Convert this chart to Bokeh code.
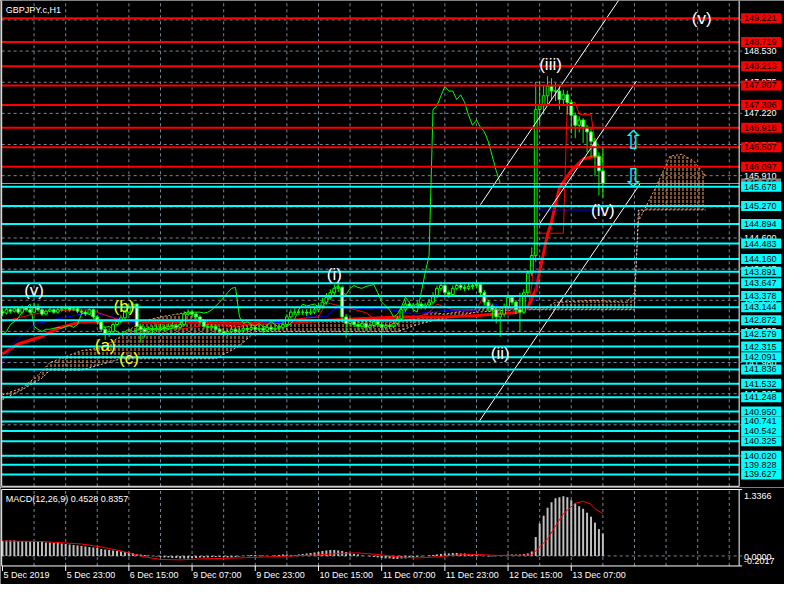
from bokeh.plotting import figure
from bokeh.layouts import column
from bokeh.models import Range1d
from bokeh.embed import file_html
from bokeh.resources import INLINE
from bokeh.core.properties import value

symbol_title = "GBPJPY.c,H1"
macd_title = "MACD(12,26,9) 0.4528 0.8357"

first_open = 143.05
closes = [143.02,143.09,143.06,143.11,143.04,143.13,143.09,143.04,143.15,143.09,
          143.00,143.06,143.09,143.04,143.09,143.11,143.13,143.09,143.11,143.06,
          143.04,143.00,143.09,142.94,142.84,142.68,
          142.57,142.63,142.78,142.84,142.92,143.04,143.13,143.21,142.74,142.68,
          142.63,142.68,142.68,142.70,142.72,142.70,142.74,142.76,142.72,142.78,
          143.00,143.04,143.00,142.94,142.84,142.74,142.72,142.74,142.68,142.63,
          142.59,142.63,142.68,142.63,142.66,142.70,142.68,142.72,142.68,142.70,
          142.66,142.72,142.68,142.70,142.72,142.78,142.94,143.04,143.04,143.04,
          143.04,143.02,143.04,143.09,143.17,143.25,143.35,143.45,143.54,143.56,
          142.94,142.80,142.84,142.78,142.74,142.80,142.72,142.76,142.84,142.78,
          142.72,142.76,142.74,142.80,142.90,143.09,143.21,143.17,143.19,143.21,
          143.15,143.19,143.25,143.39,143.54,143.60,143.45,143.41,143.54,143.60,
          143.56,143.54,143.58,143.60,143.62,143.45,143.25,143.17,143.09,142.94,
          143.00,143.15,143.35,143.25,143.09,143.04,143.45,143.86,144.23,147.30,
          147.38,147.59,147.79,147.69,147.69,147.51,147.61,147.45,147.18,146.97,
          147.08,146.93,146.83,146.63,146.32,146.01,145.75]
highs = [143.12,143.14,143.12,143.16,143.14,143.18,143.16,143.12,143.24,143.22,
         143.12,143.10,143.14,143.12,143.13,143.16,143.18,143.16,143.14,143.13,
         143.10,143.08,143.12,143.12,142.98,142.88,142.74,142.70,142.82,142.90,
         142.98,143.10,143.20,143.26,143.22,142.80,142.74,142.74,142.76,142.78,
         142.80,142.78,142.80,142.82,142.80,142.84,143.06,143.10,143.08,143.04,
         142.98,142.88,142.80,142.80,142.78,142.72,142.68,142.68,142.74,142.72,
         142.72,142.76,142.74,142.78,142.76,142.76,142.74,142.78,142.76,142.76,
         142.78,142.84,143.00,143.10,143.12,143.10,143.10,143.10,143.12,143.16,
         143.24,143.34,143.44,143.52,143.62,143.66,143.60,143.00,142.92,142.90,
         142.84,142.86,142.84,142.82,142.90,142.88,142.82,142.82,142.82,142.86,
         142.96,143.14,143.28,143.26,143.24,143.28,143.26,143.24,143.32,143.46,
         143.60,143.68,143.64,143.50,143.60,143.66,143.64,143.62,143.64,143.66,
         143.70,143.66,143.50,143.30,143.22,143.14,143.10,143.22,143.42,143.40,
         143.30,143.45,143.52,143.92,144.40,147.88,147.90,147.82,148.00,147.96,
         147.86,147.80,147.72,147.70,147.50,147.24,147.16,147.12,146.98,146.90,
         146.70,146.40,146.52]
lows = [142.96,142.99,143.01,143.03,143.00,143.01,143.05,142.99,143.02,143.05,
        142.96,142.97,143.03,143.00,143.01,143.05,143.08,143.05,143.06,143.02,
        142.99,142.96,142.98,142.90,142.78,142.62,142.46,142.52,142.60,142.74,
        142.80,142.88,143.00,143.08,142.60,142.40,142.50,142.56,142.60,142.62,
        142.64,142.64,142.66,142.70,142.66,142.68,142.74,142.96,142.94,142.88,
        142.78,142.68,142.64,142.66,142.62,142.56,142.52,142.54,142.58,142.58,
        142.58,142.62,142.62,142.64,142.62,142.64,142.60,142.62,142.62,142.64,
        142.66,142.68,142.74,142.90,142.98,142.98,142.98,142.96,142.98,143.00,
        143.04,143.12,143.20,143.30,143.40,143.46,142.88,142.50,142.74,142.72,
        142.66,142.68,142.64,142.66,142.70,142.72,142.48,142.66,142.68,142.70,
        142.76,142.86,143.04,143.12,143.12,143.14,143.10,143.10,143.14,143.20,
        143.34,143.48,143.40,143.34,143.38,143.50,143.50,143.48,143.50,143.52,
        143.54,143.38,143.18,143.05,142.90,142.80,142.52,142.94,143.10,143.18,
        143.00,142.63,143.00,143.40,143.80,144.10,147.00,147.20,147.40,147.50,
        147.48,147.30,147.40,147.20,146.80,146.70,146.82,146.60,146.40,146.30,
        145.90,145.50,145.45]
chikou_shift = 26

kijun_x = [0,3,6,8,10,14,20,25,34,64,74,77,82,84,97,104,112,120,122,125,126,133,135,135,152]
kijun = [141.98,142.39,142.63,142.78,142.82,142.90,143.00,143.00,142.80,142.80,142.84,142.94,
         142.94,143.11,143.11,143.00,143.07,143.07,143.21,143.21,143.11,143.11,143.31,145.19,145.19]
tenkan_x = [0,6,12,22,26,30,36,45,52,60,64,75,80,82,88,92,95,101,105,108,110,114,120,122,
            124,127,133,134,135,142,143,145,146,149,150,152]
tenkan = [142.84,142.96,143.07,143.09,142.98,142.86,142.85,142.68,142.78,142.72,142.83,142.90,
          142.94,143.24,143.12,143.03,142.84,142.84,142.94,143.03,143.21,143.09,143.09,143.41,
          143.15,143.11,143.11,143.60,144.70,144.70,147.45,147.45,147.20,147.20,146.60,146.48]
ma_x = [0,4,10,14,20,30,45,64,75,90,101,112,120,130,133,135,138,139,141,144,147,150,152]
ma = [142.16,142.37,142.53,142.70,142.84,142.86,142.82,142.80,142.84,142.90,142.94,142.94,
      142.97,143.03,143.13,143.51,144.68,144.95,145.66,146.01,146.26,146.32,146.26]
spanA_x = [0,5,9,12,20,25,30,35,40,47,52,55,60,65,75,85,100,105,108,112,120,130,137,140,
           150,158,160,161,165,169,172,175,178]
spanA = [141.30,141.45,141.71,141.98,142.23,142.29,142.53,142.84,142.94,143.04,142.84,142.78,
         142.74,142.80,142.84,142.84,142.84,142.90,143.04,143.00,143.11,143.11,143.11,143.25,
         143.29,143.25,143.45,144.95,145.60,146.32,146.36,146.22,145.91]
spanB_x = [0,5,10,12,20,30,40,54,60,64,70,100,105,110,120,130,140,160,161,178]
spanB = [141.20,141.41,141.65,141.82,141.82,142.06,142.06,142.06,142.33,142.63,142.63,142.63,
         142.78,142.88,143.04,143.09,143.09,143.09,145.19,145.19]

red_levels = [149.221,148.719,148.213,147.807,147.396,146.918,146.507,146.097]
cyan_levels = [145.678,145.270,144.894,144.483,144.160,143.891,143.647,143.378,143.144,142.872,
               142.579,142.315,142.091,141.836,141.532,141.248,140.950,140.741,140.542,140.325,
               140.020,139.828,139.627]
bid_price = 145.746
price_grid = [149.185,148.530,147.875,147.220,146.565,145.910,145.255,144.600,143.945,143.290,
              142.635,141.980,141.325,140.670,140.015]

trend_x0 = [121.0, 120.75, 136.0]
trend_y0 = [145.30, 140.75, 144.90]
trend_x1 = [156.5, 161.5, 160.5]
trend_y1 = [149.66, 145.75, 147.90]

wave_text = ["(v)","(a)","(b)","(c)","(i)","(ii)","(iii)","(iv)","(v)"]
wave_x = [8.0, 26.0, 30.75, 32.0, 84.0, 126.0, 138.75, 152.0, 177.0]
wave_y = [143.49, 142.33, 143.15, 142.06, 143.84, 142.16, 148.24, 145.17, 149.21]
wave_color = ["#ffffff","#ffff00","#ffff00","#ffff00","#ffffff","#ffffff","#ffffff","#ffffff","#ffffff"]

arrow_text = ["\u21e7", "\u21e9"]
arrow_x = [159.75, 159.75]
arrow_y = [146.65, 145.87]

macd_hist = [0.30,0.31,0.31,0.31,0.30,0.30,0.30,0.29,0.29,0.28,
             0.28,0.27,0.27,0.26,0.26,0.25,0.24,0.23,0.22,0.21,
             0.20,0.19,0.18,0.17,0.16,0.14,0.13,0.12,0.11,0.10,
             0.09,0.08,0.07,0.06,0.04,0.03,0.02,0.01,0.00,-0.01,
             -0.02,-0.03,-0.03,-0.04,-0.04,-0.05,-0.05,-0.05,-0.04,-0.04,
             -0.03,-0.03,-0.03,-0.02,-0.02,-0.02,-0.02,-0.03,-0.03,-0.02,
             -0.01,0.00,0.01,0.02,0.02,0.01,0.01,0.00,0.00,0.01,
             0.02,0.03,0.03,0.02,0.02,0.03,0.04,0.05,0.06,0.07,
             0.08,0.10,0.11,0.12,0.12,0.11,0.10,0.08,0.06,0.04,
             0.03,0.01,0.00,-0.01,-0.02,-0.03,-0.04,-0.05,-0.05,-0.06,
             -0.06,-0.05,-0.05,-0.04,-0.03,-0.02,-0.01,0.00,0.01,0.02,
             0.03,0.04,0.05,0.05,0.06,0.06,0.05,0.05,0.04,0.03,
             0.02,0.01,0.00,-0.01,-0.01,0.00,0.01,0.02,0.03,0.03,
             0.03,0.03,0.04,0.05,0.09,0.38,0.65,0.81,0.97,1.08,
             1.16,1.18,1.20,1.18,1.12,1.06,1.00,0.95,0.87,0.79,
             0.67,0.54,0.45]
signal_x = [0,10,20,25,30,33,36,40,45,50,60,70,80,85,90,95,100,105,110,115,120,125,130,134,
            135,138,140,142,145,147,149,150,152]
signal = [0.30,0.29,0.24,0.18,0.10,0.04,-0.02,-0.07,-0.08,-0.06,-0.04,-0.01,0.02,0.05,0.06,
          0.03,-0.02,-0.04,-0.02,0.02,0.03,0.01,0.01,0.02,0.10,0.34,0.60,0.85,1.06,1.10,1.04,
          0.95,0.85]
macd_max = 1.3366
macd_min = -0.2017
macd_axis_labels = ["1.3366", "0.0000", "-0.2017"]

time_ticks = [0,16,32,48,64,80,96,112,128,144]
time_labels = ["5 Dec 2019","5 Dec 23:00","6 Dec 15:00","9 Dec 07:00","9 Dec 23:00",
               "10 Dec 15:00","11 Dec 07:00","11 Dec 23:00","12 Dec 15:00","13 Dec 07:00"]
grid_time_ticks = list(range(8, 187, 8))

# ---------------------------------------------------------------- layout constants
W = 784
PXB = 3.95                     # pixels per bar
X0 = -0.5
X1 = X0 + W / PXB
XL = -0.2                      # left border of the panels
XR = 186.5                     # right border (price axis line)
H1, H2 = 487, 97
PY = 47.55                     # pixels per price unit
PTOP = 149.594
PBOT = PTOP - H1 / PY
MAIN_BOT = PBOT + 1.2 / PY
MY = 49.7                      # pixels per MACD unit
MTOP = macd_max + 2.0 / MY
MBOT = MTOP - H2 / MY

FONT = value("Liberation Sans")
FS = value("9px")
GRIDC = "#778899"
LIME = "#00ff00"

xr = Range1d(X0, X1)


def panel(h, y0, y1):
    f = figure(width=W, height=h, x_range=xr, y_range=Range1d(y0, y1), min_border=0,
               x_axis_location=None, y_axis_location=None, output_backend="svg",
               toolbar_location=None, background_fill_color="black",
               border_fill_color="black", outline_line_color=None)
    f.xgrid.visible = False
    f.ygrid.visible = False
    return f


# ================================================================ main panel
p1 = panel(H1, PBOT, PTOP)
gx = [t for t in grid_time_ticks if t < XR]
p1.segment(x0=gx, y0=MAIN_BOT, x1=gx, y1=PTOP, line_color=GRIDC, line_dash="3 3", line_width=1)
p1.segment(x0=XL, y0=price_grid, x1=XR, y1=price_grid, line_color=GRIDC, line_dash="3 3",
           line_width=1)

# Ichimoku cloud
cloud_x = spanA_x + spanB_x[::-1]
cloud_y = spanA + spanB[::-1]
p1.patch(cloud_x, cloud_y, fill_alpha=0, line_alpha=0, hatch_pattern="vertical_dash",
         hatch_color="#f4a460", hatch_scale=4, hatch_weight=1)
p1.line(spanA_x, spanA, line_color="#f4a460", line_dash="2 2", line_width=1)
p1.line(spanB_x, spanB, line_color="#d8bfd8", line_dash="2 2", line_width=1)

# indicator lines
p1.line(ma_x, ma, line_color="#ff0000", line_width=3)
p1.line(kijun_x, kijun, line_color="#0000ff", line_width=1)
p1.line(tenkan_x, tenkan, line_color="#ff0000", line_width=1)
n = len(closes)
p1.line([i - chikou_shift for i in range(n)], closes, line_color=LIME, line_width=1)

# candles
opens = [first_open] + closes[:-1]
tops = [max(o, c) for o, c in zip(opens, closes)]
bots = [min(o, c) for o, c in zip(opens, closes)]
fills = ["black" if c >= o else "white" for o, c in zip(opens, closes)]
xs = list(range(n))
p1.segment(x0=xs, y0=lows, x1=xs, y1=highs, line_color=LIME, line_width=1)
p1.vbar(x=xs, width=0.7, top=tops, bottom=bots, fill_color=fills, line_color=LIME, line_width=1)

# trend channel
p1.segment(x0=trend_x0, y0=trend_y0, x1=trend_x1, y1=trend_y1, line_color="white", line_width=1)

# horizontal levels
p1.segment(x0=XL, y0=[bid_price], x1=XR, y1=[bid_price], line_color="#a0a0a0", line_width=1)
p1.segment(x0=XL, y0=red_levels, x1=XR, y1=red_levels, line_color="#ff0000", line_width=2)
p1.segment(x0=XL, y0=cyan_levels, x1=XR, y1=cyan_levels, line_color="#00ffff", line_width=2)

# borders
p1.segment(x0=[XL, XR, XL], y0=[MAIN_BOT, MAIN_BOT, MAIN_BOT], x1=[XL, XR, XR],
           y1=[PTOP, PTOP, MAIN_BOT], line_color="white", line_width=1)

# price axis ticks and labels
TK = 3.0 / PXB
p1.segment(x0=XR, y0=price_grid, x1=XR + TK, y1=price_grid, line_color=GRIDC, line_width=1)
p1.text(x=XR + 1.25, y=price_grid, text=["%.3f" % v for v in price_grid], text_color="white",
        text_font=FONT, text_font_size=FS, text_baseline="middle", text_align="left")

# boxed price labels
BH = 5.0 / PY
BL, BRt = XR + 2.0 / PXB, XR + 42.0 / PXB
p1.quad(left=BL, right=BRt, top=[bid_price + BH], bottom=[bid_price - BH], fill_color="#808080",
        line_color=None)
p1.text(x=XR + 1.25, y=[bid_price], text=["%.3f" % bid_price], text_color="black",
        text_font=FONT, text_font_size=FS, text_baseline="middle", text_align="left")
p1.quad(left=BL, right=BRt, top=[v + BH for v in red_levels], bottom=[v - BH for v in red_levels],
        fill_color="#ff0000", line_color=None)
p1.text(x=XR + 1.25, y=red_levels, text=["%.3f" % v for v in red_levels], text_color="black",
        text_font=FONT, text_font_size=FS, text_baseline="middle", text_align="left")
p1.quad(left=BL, right=BRt, top=[v + BH for v in cyan_levels],
        bottom=[v - BH for v in cyan_levels], fill_color="#00ffff", line_color=None)
p1.text(x=XR + 1.25, y=cyan_levels, text=["%.3f" % v for v in cyan_levels], text_color="black",
        text_font=FONT, text_font_size=FS, text_baseline="middle", text_align="left")

# wave labels and arrows
p1.text(x=wave_x, y=wave_y, text=wave_text, text_color=wave_color, text_font=FONT,
        text_font_size=value("17px"), text_align="center", text_baseline="middle")
p1.text(x=arrow_x, y=arrow_y, text=arrow_text, text_color="#00ffff",
        text_font=value("DejaVu Sans"), text_font_size=value("26px"), text_align="center",
        text_baseline="middle")

p1.text(x=[XL + 1.0], y=[PTOP - 9.0 / PY], text=[symbol_title], text_color="white",
        text_font=FONT, text_font_size=FS, text_baseline="middle", text_align="left")

# ================================================================ MACD panel
p2 = panel(H2, MBOT, MTOP)
p2.segment(x0=gx, y0=macd_min, x1=gx, y1=macd_max, line_color=GRIDC, line_dash="3 3", line_width=1)
p2.segment(x0=[XL], y0=[0.0], x1=[XR], y1=[0.0], line_color=GRIDC, line_dash="3 3", line_width=1)
p2.vbar(x=list(range(len(macd_hist))), top=macd_hist, bottom=0, width=0.5,
        fill_color="#c0c0c0", line_color=None)
p2.line(signal_x, signal, line_color="#ff0000", line_width=1)

# borders
p2.segment(x0=[XL, XR, XL, XL], y0=[macd_min, macd_min, macd_min, macd_max],
           x1=[XL, XR, XR, XR], y1=[macd_max, macd_max, macd_min, macd_max],
           line_color="white", line_width=1)
# right axis ticks / labels
p2.segment(x0=XR, y0=[macd_max, macd_min], x1=XR + TK, y1=[macd_max, macd_min],
           line_color="white", line_width=1)
p2.segment(x0=XR, y0=[0.0], x1=XR + TK, y1=[0.0], line_color=GRIDC, line_width=1)
p2.text(x=XR + 1.25, y=[macd_max - 6.0 / MY, 0.0 - 1.5 / MY, macd_min + 5.0 / MY],
        text=macd_axis_labels, text_color="white", text_font=FONT, text_font_size=FS,
        text_baseline="middle", text_align="left")

# time axis ticks / labels
p2.segment(x0=time_ticks, y0=macd_min, x1=time_ticks, y1=macd_min - 5.0 / MY,
           line_color="white", line_width=1)
p2.text(x=[t + 0.25 for t in time_ticks], y=macd_min - 9.5 / MY, text=time_labels,
        text_color="white", text_font=FONT, text_font_size=FS, text_baseline="middle",
        text_align="left")

p2.text(x=[XL + 1.0], y=[macd_max - 9.0 / MY], text=[macd_title], text_color="white",
        text_font=FONT, text_font_size=FS, text_baseline="middle", text_align="left")

layout = column(p1, p2, spacing=0)
open("out.html", "w").write(file_html(layout, INLINE))
